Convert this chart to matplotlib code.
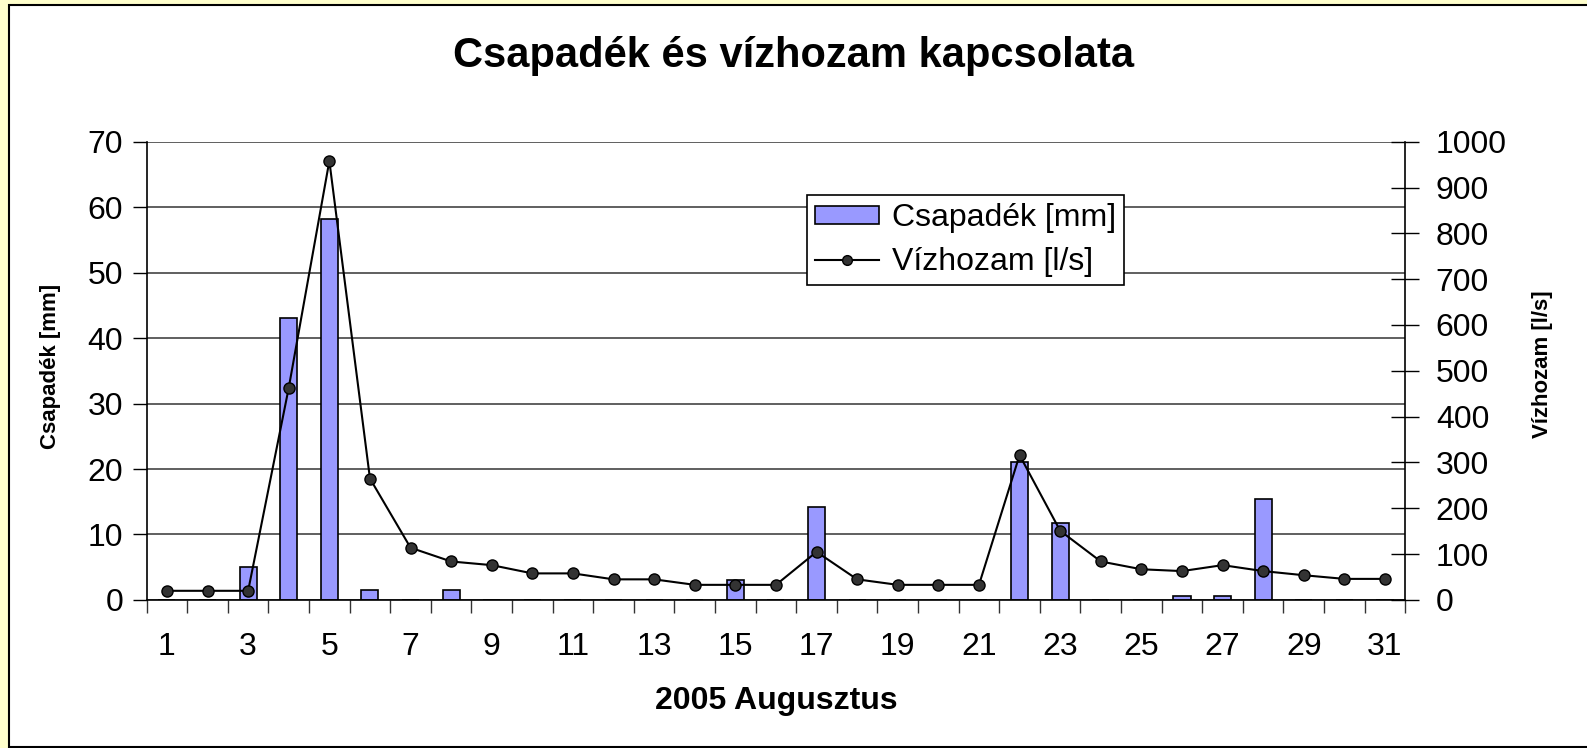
import matplotlib.pyplot as plt
import matplotlib.patches as mpatches
from matplotlib.lines import Line2D
import numpy as np

plt.rcParams['font.family'] = ['Liberation Sans', 'DejaVu Sans']

days = list(range(1, 32))
csapadek = [0, 0, 5, 43, 58.2, 1.5, 0, 1.5, 0, 0,
            0, 0, 0, 0, 3, 0, 14.2, 0, 0, 0,
            0, 21, 11.8, 0, 0, 0.6, 0.6, 15.4, 0, 0, 0]
vizhozam = [20, 20, 20, 463, 958, 265, 114, 84, 76, 58,
            58, 45, 45, 33, 33, 33, 105, 45, 33, 33,
            33, 316, 151, 84, 67, 63, 76, 63, 54, 46, 46]
xlabels = [str(d) if d % 2 == 1 else "" for d in days]

fig = plt.figure(figsize=(15.87, 7.48), dpi=100)
fig.patch.set_facecolor('#FFFFCC')
# white chart area with black border
fig.patches.append(mpatches.Rectangle((9/1587, 1/748), 1.0, 742/748, transform=fig.transFigure,
                                      facecolor='white', edgecolor='black', linewidth=1.5, zorder=-10))

ax = fig.add_axes([0.0924, 0.1979, 0.7931, 0.6127])
ax.set_facecolor('none')
x = np.array(days)
ax.bar(x, csapadek, width=0.42, color='#9999FF', edgecolor='black', linewidth=1.2, zorder=2)
ax.set_xlim(0.5, 31.5)
ax.set_ylim(0, 70)
ax.set_yticks(range(0, 71, 10))
ax.yaxis.grid(True, color='#444444', linewidth=1.2, zorder=0)
ax.set_axisbelow(True)
ax.set_xticks(np.arange(0.5, 32, 1))
ax.set_xticklabels([])
ax.set_xticks(x, minor=True)
ax.set_xticklabels(xlabels, minor=True)
ax.tick_params(axis='x', which='major', length=9, width=1, color='#333333')
ax.tick_params(axis='x', which='minor', length=0, labelsize=23, pad=23)
ax.tick_params(axis='y', length=10, width=1, labelsize=23, pad=7)
ax.spines['top'].set_visible(False)
ax.spines['right'].set_visible(False)
for s in ['left', 'bottom']:
    ax.spines[s].set_linewidth(1.2)
ax.set_ylabel("Csapadék [mm]", fontsize=16, fontweight='bold', va='center')
ax.yaxis.set_label_coords(-0.0765, 0.51)
ax.set_xlabel("2005 Augusztus", fontsize=23, fontweight='bold', labelpad=17)

ax2 = ax.twinx()
ax2.plot(x, vizhozam, color='black', linewidth=1.5, marker='o', markersize=8,
         markerfacecolor='#333333', markeredgecolor='black', zorder=3)
ax2.set_ylim(0, 1000)
ax2.set_yticks(range(0, 1001, 100))
ax2.tick_params(axis='y', direction='inout', length=20, width=1, labelsize=23, pad=12)
ax2.spines['top'].set_visible(False)
ax2.spines['left'].set_visible(False)
ax2.spines['bottom'].set_visible(False)
ax2.spines['right'].set_linewidth(1.2)
ax2.set_ylabel("Vízhozam [l/s]", fontsize=16, fontweight='bold', va='center')
ax2.yaxis.set_label_coords(1.109, 0.515)

fig.suptitle("Csapadék és vízhozam kapcsolata", fontsize=30, fontweight='bold', y=0.952)

handles = [mpatches.Patch(facecolor='#9999FF', edgecolor='black', linewidth=1.2),
           Line2D([0], [0], color='black', linewidth=1.5, marker='o', markersize=7,
                  markerfacecolor='#333333', markeredgecolor='black')]
leg = ax2.legend(handles, ["Csapadék [mm]", "Vízhozam [l/s]"], loc='upper left',
                 bbox_to_anchor=(0.5085, 0.7393), bbox_transform=fig.transFigure,
                 fontsize=23, frameon=True, fancybox=False,
                 edgecolor='black', framealpha=1, handlelength=2.0, handleheight=0.5,
                 borderpad=0.25, labelspacing=0.45, handletextpad=0.4, borderaxespad=0)
leg.get_frame().set_linewidth(1.2)

fig.savefig("out.png", dpi=100, facecolor=fig.get_facecolor())
